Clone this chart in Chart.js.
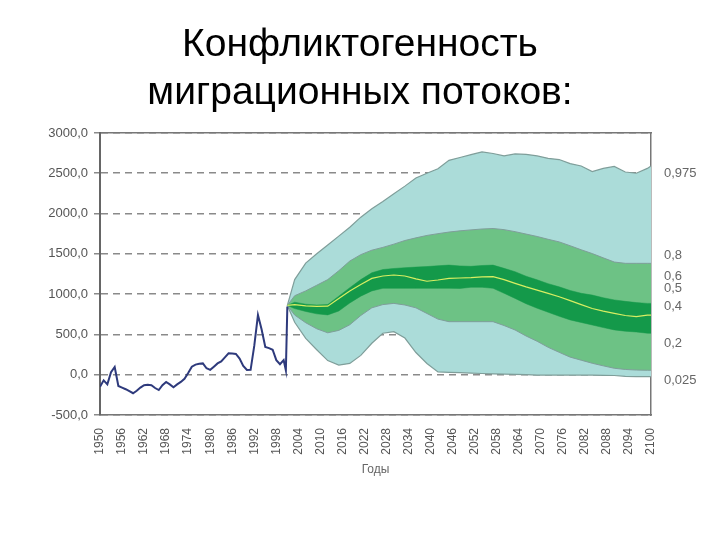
<!DOCTYPE html>
<html>
<head>
<meta charset="utf-8">
<script src="https://cdn.jsdelivr.net/npm/chart.js@4"></script>
<style>
  html, body { margin: 0; padding: 0; background: #fff; }
  #wrap { width: 720px; height: 540px; }
</style>
</head>
<body>
<div id="wrap"><canvas id="migrationChart" width="720" height="540"></canvas></div>
<script>
// Historical net migration (1950-2001)
const histYears = [1950, 1951, 1952, 1953, 1954, 1955, 1956, 1957, 1958, 1959,
  1960, 1961, 1962, 1963, 1964, 1965, 1966, 1967, 1968, 1969,
  1970, 1971, 1972, 1973, 1974, 1975, 1976, 1977, 1978, 1979,
  1980, 1981, 1982, 1983, 1984, 1985, 1986, 1987, 1988, 1989,
  1990, 1991, 1992, 1993, 1994, 1995, 1996, 1997, 1998, 1999,
  2000, 2000.6, 2001];
const histValues = [-150, -70, -120, 30, 95, -140, -160, -180, -205, -230,
  -200, -160, -130, -125, -130, -165, -190, -130, -90, -120,
  -155, -120, -90, -50, 20, 100, 125, 135, 140, 80,
  60, 100, 140, 165, 215, 265, 262, 258, 200, 110,
  58, 60, 360, 740, 560, 345, 330, 310, 180, 130,
  180, 55, 845];

// Forecast quantiles (2001-2100)
const forecastYears = [2001, 2003, 2006, 2009, 2012, 2015, 2018, 2021, 2024, 2027,
  2030, 2033, 2036, 2039, 2042, 2045, 2048, 2051, 2054, 2057,
  2060, 2063, 2066, 2069, 2072, 2075, 2078, 2081, 2084, 2087,
  2090, 2093, 2096, 2099, 2100];
const q975 = [860, 1180, 1385, 1500, 1610, 1720, 1830, 1955, 2060, 2150,
  2245, 2340, 2440, 2500, 2555, 2660, 2695, 2730, 2765, 2745,
  2715, 2740, 2735, 2715, 2685, 2670, 2620, 2590, 2520, 2560,
  2585, 2515, 2500, 2560, 2590];
const q80 = [860, 980, 1040, 1110, 1180, 1290, 1410, 1490, 1545, 1580,
  1620, 1665, 1698, 1728, 1750, 1770, 1785, 1797, 1808, 1814,
  1800, 1775, 1745, 1715, 1680, 1648, 1600, 1550, 1503, 1450,
  1398, 1382, 1382, 1382, 1382];
const q60 = [860, 900, 875, 865, 870, 975, 1080, 1180, 1265, 1305,
  1318, 1328, 1335, 1342, 1352, 1360, 1350, 1345, 1355, 1360,
  1320, 1278, 1222, 1177, 1130, 1090, 1045, 1010, 988, 955,
  928, 910, 895, 885, 885];
const q50 = [860, 870, 855, 848, 850, 945, 1040, 1120, 1195, 1225,
  1237, 1225, 1190, 1160, 1175, 1196, 1200, 1205, 1215, 1216,
  1180, 1134, 1090, 1050, 1010, 968, 920, 870, 822, 790,
  762, 735, 720, 740, 740];
const q40 = [860, 820, 785, 755, 742, 790, 890, 975, 1040, 1072,
  1072, 1072, 1072, 1072, 1072, 1072, 1070, 1085, 1085, 1072,
  1010, 947, 880, 825, 775, 725, 680, 648, 617, 585,
  556, 540, 530, 515, 513];
const q20 = [860, 740, 645, 570, 520, 550, 620, 735, 830, 870,
  885, 865, 830, 760, 690, 658, 658, 658, 658, 658,
  610, 555, 480, 415, 340, 278, 218, 180, 142, 110,
  80, 65, 58, 55, 55];
const q025 = [860, 650, 450, 310, 175, 120, 140, 240, 390, 515,
  534, 455, 275, 140, 35, 30, 25, 20, 15, 10,
  8, 5, 0, -4, -4, -4, -5, -5, -5, -8,
  -10, -20, -25, -25, -25];

// Quantile labels on the right side
const rightLabels = ["0,975", "0,8", "0,6", "0,5", "0,4", "0,2", "0,025"];
const rightLabelAt = [2500, 1485, 1225, 1072, 844, 390, -66];

const FONT = "'Liberation Sans', Arial, sans-serif";
const toPoints = (xs, ys) => xs.map((x, i) => ({ x: x, y: ys[i] }));
const edge = "#7f9e9a";

const ctx = document.getElementById("migrationChart").getContext("2d");

new Chart(ctx, {
  type: "line",
  data: {
    datasets: [
      { data: toPoints(forecastYears, q025), borderColor: edge, borderWidth: 1.2, fill: false, order: 5 },
      { data: toPoints(forecastYears, q975), borderColor: edge, borderWidth: 1.2, backgroundColor: "#abdcd9", fill: 0, order: 5 },
      { data: toPoints(forecastYears, q20), borderColor: edge, borderWidth: 1, fill: false, order: 4 },
      { data: toPoints(forecastYears, q80), borderColor: edge, borderWidth: 1, backgroundColor: "#6dc285", fill: 2, order: 4 },
      { data: toPoints(forecastYears, q40), borderColor: "#14994a", borderWidth: 0.5, fill: false, order: 3 },
      { data: toPoints(forecastYears, q60), borderColor: "#14994a", borderWidth: 0.5, backgroundColor: "#14994a", fill: 4, order: 3 },
      { data: toPoints(forecastYears, q50), borderColor: "#d8ee62", borderWidth: 1.2, fill: false, order: 2 },
      { data: toPoints(histYears, histValues), borderColor: "#2e3a7c", borderWidth: 2, fill: false, order: 1 },
    ],
  },
  options: {
    responsive: false,
    animation: false,
    elements: { point: { radius: 0 }, line: { tension: 0 } },
    layout: { padding: { left: 0, right: 0, top: 0, bottom: 55 } },
    plugins: {
      legend: { display: false },
      tooltip: { enabled: false },
      title: {
        display: true,
        text: ["Конфликтогенность", "миграционных потоков:"],
        color: "#000",
        font: { family: FONT, size: 39, weight: "normal", lineHeight: 1.23 },
        padding: { top: 21, bottom: 16 },
      },
    },
    scales: {
      x: {
        type: "linear",
        position: "bottom",
        min: 1950,
        max: 2100,
        grid: { display: false },
        border: { display: true, color: "#777", width: 1.5 },
        ticks: {
          stepSize: 6,
          autoSkip: false,
          maxRotation: 90,
          minRotation: 90,
          padding: 5,
          color: "#555",
          font: { family: FONT, size: 12 },
          callback: (v) => String(v),
        },
        title: {
          display: true,
          text: "Годы",
          color: "#666",
          font: { family: FONT, size: 12 },
          padding: { top: 0, bottom: 8 },
        },
        afterFit: (scale) => { scale.height = 70; },
      },
      xTop: {
        type: "linear",
        position: "top",
        min: 1950,
        max: 2100,
        grid: { display: false },
        ticks: { display: false },
        border: { display: true, color: "#777", width: 1.5 },
        afterFit: (scale) => { scale.height = 0; },
      },
      y: {
        type: "linear",
        position: "left",
        min: -500,
        max: 3000,
        grid: {
          color: "#8a8a8a",
          lineWidth: 1.5,
          tickLength: 6,
          tickColor: "#8a8a8a",
        },
        border: { display: true, color: "#666", width: 2, dash: [7, 5] },
        ticks: {
          stepSize: 500,
          padding: 6,
          color: "#555",
          font: { family: FONT, size: 13 },
          callback: (v) => v.toFixed(1).replace(".", ","),
        },
        afterFit: (scale) => { scale.width = 100; },
      },
      y2: {
        type: "linear",
        position: "right",
        min: -500,
        max: 3000,
        grid: { display: false },
        border: { display: true, color: "#777", width: 1.5 },
        afterBuildTicks: (scale) => {
          scale.ticks = rightLabelAt.map((v) => ({ value: v }));
        },
        ticks: {
          autoSkip: false,
          padding: 5,
          color: "#666",
          font: { family: FONT, size: 13 },
          callback: (v, i) => rightLabels[i],
        },
        afterFit: (scale) => { scale.width = 69; },
      },
    },
  },
});
</script>
</body>
</html>
